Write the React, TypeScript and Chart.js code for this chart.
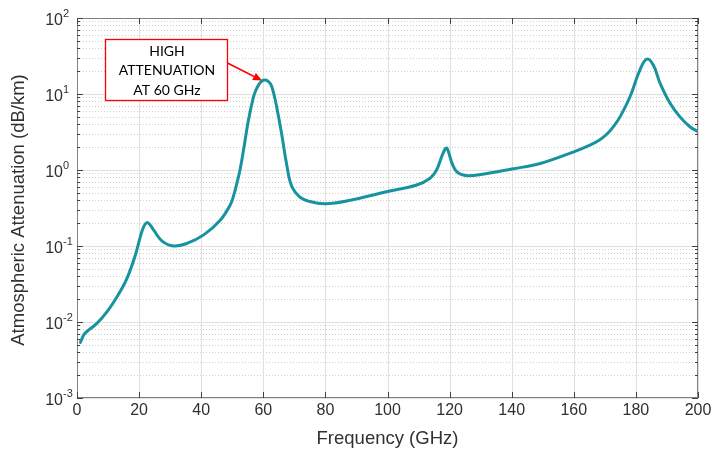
import React, { useEffect, useRef } from "react";
import { Chart, registerables } from "chart.js";

Chart.register(...registerables);

// ---- data ----
const freqGHz = [
  1.1, 2.2, 3.2, 6.4, 9.7, 12.9, 16.1, 18.8, 20.4, 21.5, 22.5, 23.5, 24.7, 27.4, 31.1, 35.4,
  40.8, 46.2, 49.4, 50.5, 51.5, 52.5, 53.6, 55.2, 56.8, 57.6, 58.5, 59.5, 60.5, 61.5, 62.5,
  63.4, 64.3, 65.9, 67.5, 69.1, 71.8, 75, 80, 88, 100, 109.4, 113.7, 115.8, 116.9, 118, 119,
  120, 120.7, 122, 123.5, 126, 130, 140, 149.2, 159.8, 165.2, 168.4, 170.6, 172.7, 174.9,
  178.1, 181.3, 183.5, 185.6, 187.8, 191, 194.2, 197.4, 200,
];
const attenuation = [
  0.0054, 0.0068, 0.0075, 0.0096, 0.0137, 0.0215, 0.0376, 0.076, 0.133, 0.18, 0.203, 0.19,
  0.162, 0.116, 0.1, 0.108, 0.14, 0.22, 0.35, 0.47, 0.67, 1.0, 1.8, 4.5, 9.0, 11.2, 13.2,
  14.8, 15.3, 14.8, 13.2, 10.0, 6.8, 3.0, 1.2, 0.62, 0.44, 0.385, 0.36, 0.4, 0.52, 0.635,
  0.78, 1.0, 1.3, 1.7, 1.95, 1.55, 1.25, 0.98, 0.88, 0.84, 0.87, 1.03, 1.22, 1.72, 2.12, 2.5,
  2.95, 3.7, 5.0, 9.2, 20.7, 28.7, 24.1, 13.8, 7.55, 5.0, 3.71, 3.2,
];
const xTicks = [0, 20, 40, 60, 80, 100, 120, 140, 160, 180, 200];
const yExponents = [-3, -2, -1, 0, 1, 2];
const xTitle = "Frequency (GHz)";
const yTitle = "Atmospheric Attenuation (dB/km)";
const noteLines = ["HIGH", "ATTENUATION", "AT 60 GHz"];
const noteTargetFreq = 59.6;
const noteTargetValue = 15;

const FONT = "'Liberation Sans', Arial, Helvetica, sans-serif";
const TEXT = "#303030";
const LINE = "#17939f";

const matlabAxes = {
  id: "matlabAxes",
  beforeDatasetsDraw(chart: any) {
    const { ctx, chartArea: a, scales } = chart;
    const xs = scales.x;
    const ys = scales.y;
    ctx.save();
    ctx.lineWidth = 1;
    // minor dotted horizontal grid
    ctx.strokeStyle = "#cfcfcf";
    ctx.setLineDash([1, 2]);
    for (let i = 0; i < yExponents.length - 1; i++) {
      for (let k = 2; k <= 9; k++) {
        const y = Math.round(ys.getPixelForValue(k * Math.pow(10, yExponents[i]))) + 0.5;
        ctx.beginPath();
        ctx.moveTo(a.left, y);
        ctx.lineTo(a.right, y);
        ctx.stroke();
      }
    }
    ctx.setLineDash([]);
    ctx.strokeStyle = "#e0e0e0";
    for (const e of yExponents) {
      const y = Math.round(ys.getPixelForValue(Math.pow(10, e))) + 0.5;
      ctx.beginPath();
      ctx.moveTo(a.left, y);
      ctx.lineTo(a.right, y);
      ctx.stroke();
    }
    for (const t of xTicks) {
      const x = Math.round(xs.getPixelForValue(t)) + 0.5;
      ctx.beginPath();
      ctx.moveTo(x, a.top);
      ctx.lineTo(x, a.bottom);
      ctx.stroke();
    }
    ctx.restore();
  },
  afterDatasetsDraw(chart: any) {
    const { ctx, chartArea: a, scales } = chart;
    const xs = scales.x;
    const ys = scales.y;
    ctx.save();
    // frame
    ctx.strokeStyle = "#808080";
    ctx.lineWidth = 1;
    ctx.strokeRect(a.left + 0.5, a.top + 0.5, a.right - a.left - 1, a.bottom - a.top - 1);
    // ticks
    ctx.strokeStyle = "#404040";
    ctx.beginPath();
    for (let i = 0; i < yExponents.length; i++) {
      const y = Math.round(ys.getPixelForValue(Math.pow(10, yExponents[i]))) + 0.5;
      ctx.moveTo(a.left, y);
      ctx.lineTo(a.left + 6, y);
      ctx.moveTo(a.right, y);
      ctx.lineTo(a.right - 6, y);
      if (i < yExponents.length - 1) {
        for (let k = 2; k <= 9; k++) {
          const ym = Math.round(ys.getPixelForValue(k * Math.pow(10, yExponents[i]))) + 0.5;
          ctx.moveTo(a.left, ym);
          ctx.lineTo(a.left + 3, ym);
          ctx.moveTo(a.right, ym);
          ctx.lineTo(a.right - 3, ym);
        }
      }
    }
    for (const t of xTicks) {
      const x = Math.round(xs.getPixelForValue(t)) + 0.5;
      ctx.moveTo(x, a.bottom);
      ctx.lineTo(x, a.bottom - 6);
      ctx.moveTo(x, a.top);
      ctx.lineTo(x, a.top + 6);
    }
    ctx.stroke();

    // x tick labels
    ctx.fillStyle = TEXT;
    ctx.font = `16px ${FONT}`;
    ctx.textAlign = "center";
    ctx.textBaseline = "middle";
    for (const t of xTicks) {
      ctx.fillText(String(t), xs.getPixelForValue(t), a.bottom + 13);
    }
    // y tick labels 10^e
    for (const e of yExponents) {
      const y = ys.getPixelForValue(Math.pow(10, e));
      ctx.font = `16px ${FONT}`;
      ctx.textAlign = "right";
      ctx.textBaseline = "middle";
      ctx.fillText("10", a.left - 14, y + 3);
      ctx.font = `11px ${FONT}`;
      ctx.textAlign = "left";
      ctx.fillText(String(e), a.left - 14, y - 4);
    }
    // axis titles
    ctx.font = `18.5px ${FONT}`;
    ctx.textAlign = "center";
    ctx.textBaseline = "middle";
    ctx.fillText(xTitle, (a.left + a.right) / 2, a.bottom + 41);
    ctx.save();
    ctx.translate(19, (a.top + a.bottom) / 2 + 2);
    ctx.rotate(-Math.PI / 2);
    ctx.fillText(yTitle, 0, 0);
    ctx.restore();

    // annotation
    const bx = a.left + 28;
    const by = a.top + 21;
    const bw = 122;
    const bh = 61;
    ctx.fillStyle = "#ffffff";
    ctx.fillRect(bx, by, bw, bh);
    ctx.strokeStyle = "#ff0000";
    ctx.lineWidth = 1.3;
    ctx.strokeRect(bx + 0.5, by + 0.5, bw, bh);
    ctx.fillStyle = "#000000";
    ctx.font = `14px Lato, 'Open Sans', sans-serif`;
    ctx.textAlign = "center";
    ctx.textBaseline = "middle";
    noteLines.forEach((s, i) => ctx.fillText(s, bx + bw / 2 + 1, by + 12 + i * 19.5));
    const sx = bx + bw + 0.5;
    const sy = by + 24;
    const tx = xs.getPixelForValue(noteTargetFreq);
    const ty = ys.getPixelForValue(noteTargetValue);
    const ang = Math.atan2(ty - sy, tx - sx);
    const hl = 9;
    const hw = 4;
    const ex = tx - hl * Math.cos(ang);
    const ey = ty - hl * Math.sin(ang);
    ctx.strokeStyle = "#ff0000";
    ctx.lineWidth = 1.5;
    ctx.beginPath();
    ctx.moveTo(sx, sy);
    ctx.lineTo(ex, ey);
    ctx.stroke();
    ctx.fillStyle = "#ff0000";
    ctx.beginPath();
    ctx.moveTo(tx, ty);
    ctx.lineTo(ex + hw * Math.sin(ang), ey - hw * Math.cos(ang));
    ctx.lineTo(ex - hw * Math.sin(ang), ey + hw * Math.cos(ang));
    ctx.closePath();
    ctx.fill();
    ctx.restore();
  },
};

export default function App() {
  const ref = useRef<HTMLCanvasElement | null>(null);
  useEffect(() => {
    if (!ref.current) return;
    const chart = new Chart(ref.current, {
      type: "line",
      data: {
        datasets: [
          {
            data: freqGHz.map((f, i) => ({ x: f, y: attenuation[i] })),
            borderColor: LINE,
            borderWidth: 3,
            pointRadius: 0,
            tension: 0.4,
            borderCapStyle: "round",
            borderJoinStyle: "round",
            fill: false,
          },
        ],
      },
      options: {
        animation: false,
        responsive: false,
        devicePixelRatio: 1,
        layout: { padding: { left: 77, top: 18, right: 15, bottom: 57 } },
        plugins: { legend: { display: false }, tooltip: { enabled: false } },
        scales: {
          x: { type: "linear", min: 0, max: 200, display: false },
          y: { type: "logarithmic", min: 1e-3, max: 1e2, display: false },
        },
      },
      plugins: [matlabAxes],
    } as any);
    return () => chart.destroy();
  }, []);
  return (
    <div style={{ position: "absolute", left: 0, top: 0, width: 713, height: 455, background: "#fff" }}>
      <canvas ref={ref} width={713} height={455} style={{ width: 713, height: 455, display: "block" }} />
    </div>
  );
}
